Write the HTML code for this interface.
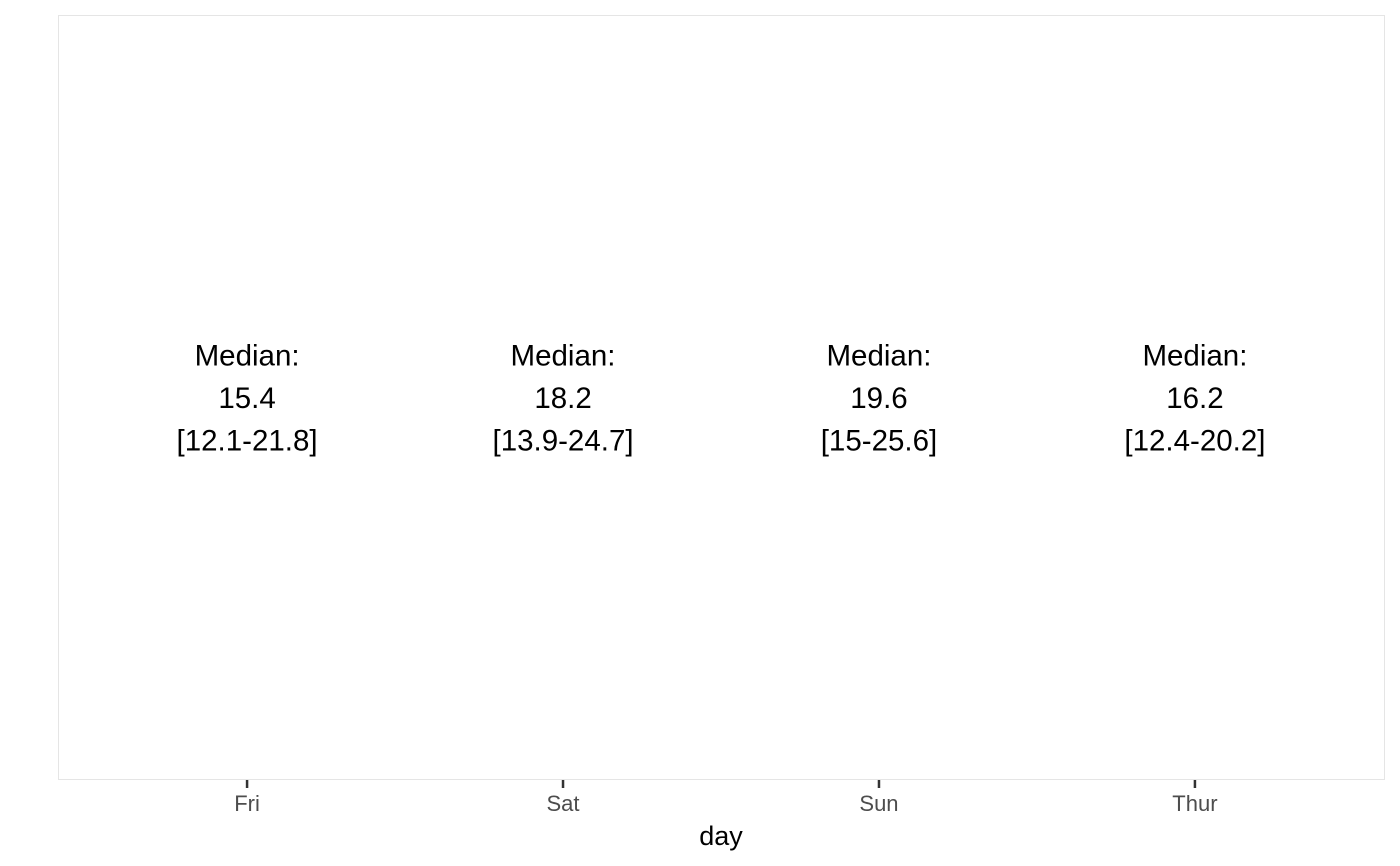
<!DOCTYPE html>
<html><head><meta charset="utf-8"><style>
html,body{margin:0;padding:0;background:#fff;}
svg{display:block;font-family:"Liberation Sans",Arial,sans-serif;}
</style></head><body>
<svg id="chart" width="1400" height="866" viewBox="0 0 1400 866">
<rect x="58.5" y="15.5" width="1326" height="764" fill="#fff" stroke="#e5e5e5" stroke-width="1"/>
<g id="ticks"></g>
<g id="labels"></g>
<text x="721" y="845" text-anchor="middle" font-size="27" fill="#000">day</text>
</svg>
<script>
const categories = ["Fri","Sat","Sun","Thur"];
const medians = [15.4, 18.2, 19.6, 16.2];
const lows = [12.1, 13.9, 15, 12.4];
const highs = [21.8, 24.7, 25.6, 20.2];

const ns = "http://www.w3.org/2000/svg";
const x0 = 58, x1 = 1385;
const step = (x1 - x0) / (categories.length + 0.2);
function xPos(i){ return x0 + step * (0.6 + i) - 0.5; }
const ticks = document.getElementById("ticks");
const labels = document.getElementById("labels");
categories.forEach((c, i) => {
  const x = xPos(i);
  const t = document.createElementNS(ns, "line");
  t.setAttribute("x1", x); t.setAttribute("x2", x);
  t.setAttribute("y1", 780); t.setAttribute("y2", 788);
  t.setAttribute("stroke", "#333"); t.setAttribute("stroke-width", "2.5");
  
  
  ticks.appendChild(t);
  const tl = document.createElementNS(ns, "text");
  tl.setAttribute("x", x); tl.setAttribute("y", 811);
  tl.setAttribute("text-anchor", "middle");
  tl.setAttribute("font-size", "22"); tl.setAttribute("fill", "#4d4d4d");
  tl.textContent = c;
  
  
  ticks.appendChild(tl);
  const lines = ["Median:", String(medians[i]), "[" + lows[i] + "-" + highs[i] + "]"];
  const g = document.createElementNS(ns, "g");
  
  
  lines.forEach((s, k) => {
    const tx = document.createElementNS(ns, "text");
    tx.setAttribute("x", x); tx.setAttribute("y", 365.5 + k * 42.5);
    tx.setAttribute("text-anchor", "middle");
    tx.setAttribute("font-size", "29.5"); tx.setAttribute("fill", "#000");
    tx.textContent = s;
    
    
    g.appendChild(tx);
  });
  labels.appendChild(g);
});
</script>
</body></html>
